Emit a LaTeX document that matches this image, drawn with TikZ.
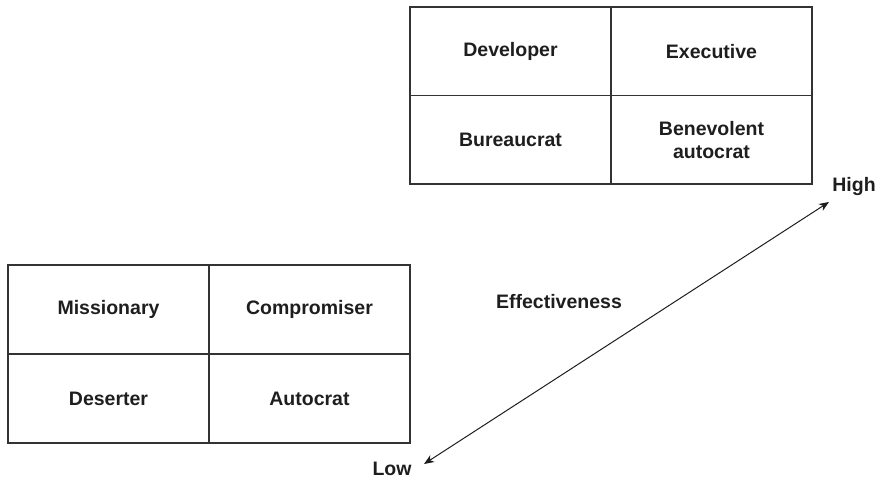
\documentclass[tikz,border=0pt]{standalone}
\usepackage{fontspec}
\setmainfont{Liberation Sans}
\usetikzlibrary{arrows.meta}
\definecolor{ink}{HTML}{1E1E1E}
\definecolor{rule}{HTML}{333333}
\begin{document}
\begin{tikzpicture}[x=1pt,y=-1pt,
  cell/.style={draw=rule, line width=1.1pt, minimum width=201pt, inner sep=0pt, align=center,
    text=ink, font=\bfseries\fontsize{19.5}{23}\selectfont},
  topcell/.style={cell, minimum height=88.5pt},
  botcell/.style={cell, minimum height=89pt},
  lbl/.style={text=ink, inner sep=0pt, font=\bfseries\fontsize{19.5}{23}\selectfont},
  axis/.style={draw=ink, line width=1pt, {Stealth[length=10pt,width=8pt,inset=3pt]}-{Stealth[length=10pt,width=8pt,inset=3pt]}}]
\useasboundingbox (0,0) rectangle (876,482);
% top grid
\node[topcell] (dev) at (510.5,51.25) {Developer};
\node[topcell] (exe) at (711.5,51.25) {Executive};
\node[topcell] (bur) at (510.5,139.75) {Bureaucrat};
\node[topcell] (ben) at (711.5,139.75) {Benevolent\\autocrat};
% bottom grid
\node[botcell] (mis) at (108.5,309.5) {Missionary};
\node[botcell] (com) at (309.5,309.5) {Compromiser};
\node[botcell] (des) at (108.5,398.5) {Deserter};
\node[botcell] (aut) at (309.5,398.5) {Autocrat};
% axis
\coordinate (lo) at (424,464);
\coordinate (hi) at (829,202);
\draw[axis] (lo) -- (hi);
\node[lbl] (low) at (392,469) {Low};
\node[lbl] (high) at (854,186) {High};
\node[lbl] (eff) at (559,302) {Effectiveness};
\end{tikzpicture}
\end{document}
